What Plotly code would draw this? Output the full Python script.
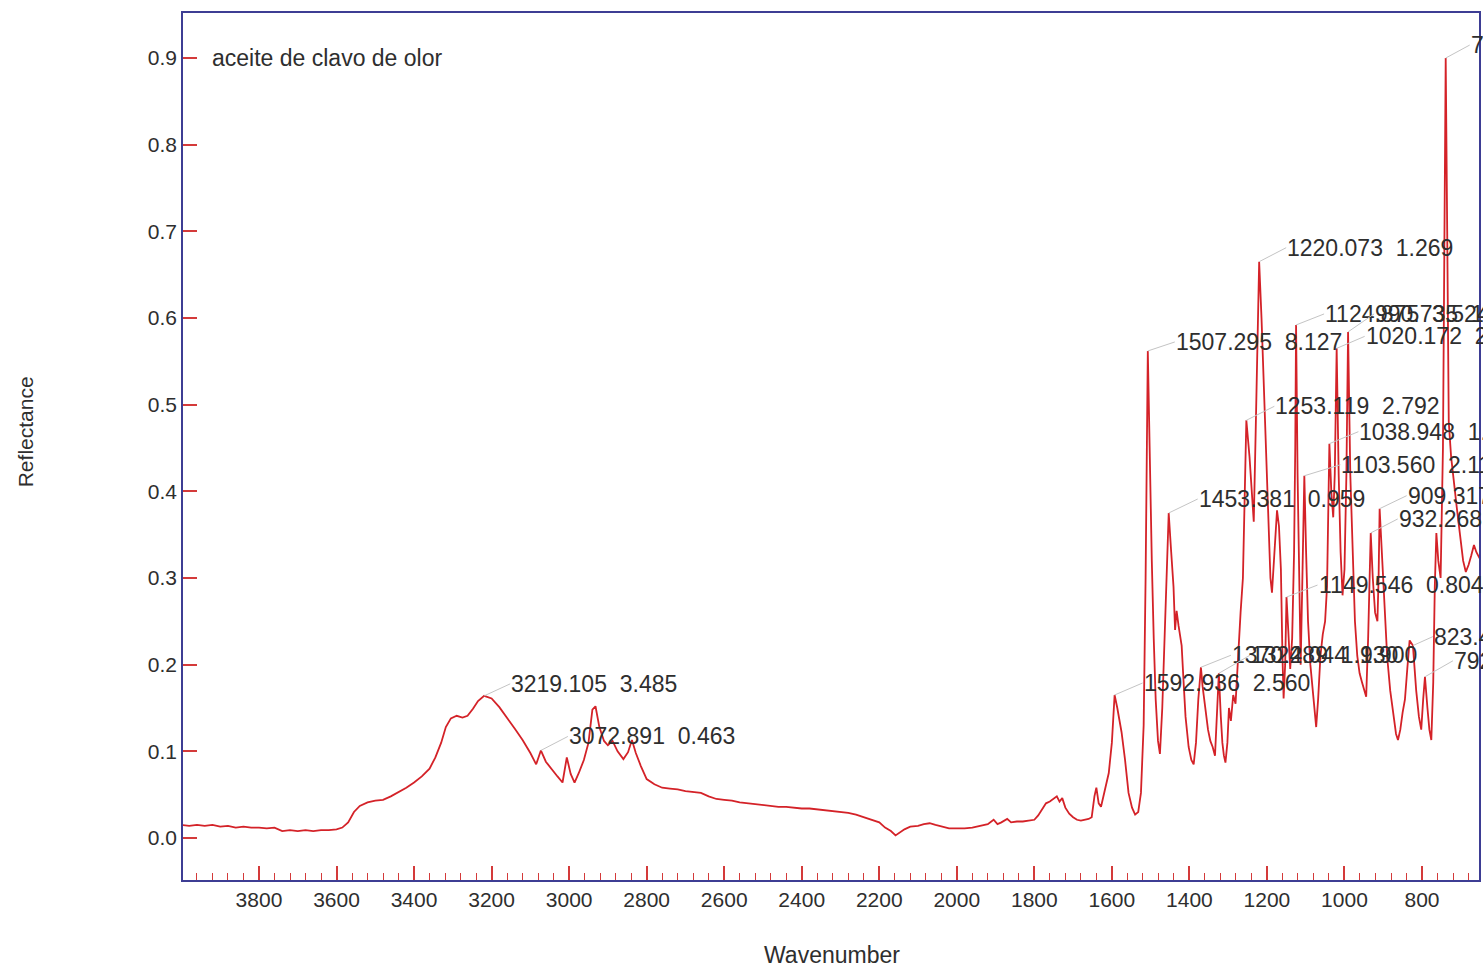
import numpy as np
import plotly.graph_objects as go

# IR reflectance spectrum of clove oil (aceite de clavo de olor)
wavenumber = [
    4000, 3980, 3960, 3940, 3920, 3900, 3880, 3860, 3840, 3820, 3800, 3780, 3760, 3740, 3720,
    3700, 3680, 3660, 3640, 3620, 3600, 3585, 3570, 3555, 3540, 3520, 3500, 3480, 3460, 3440,
    3420, 3400, 3380, 3360, 3345, 3330, 3318, 3305, 3290, 3275, 3262, 3248, 3235, 3219.105,
    3200, 3180, 3160, 3140, 3120, 3100, 3085, 3072.891, 3060, 3045, 3030, 3017, 3006, 2996,
    2986, 2975, 2962, 2950, 2940, 2932, 2922, 2910, 2900, 2888, 2875, 2860, 2848, 2838, 2828,
    2815, 2800, 2780, 2760, 2740, 2720, 2700, 2680, 2660, 2640, 2620, 2600, 2580, 2560, 2540,
    2520, 2500, 2480, 2460, 2440, 2420, 2400, 2380, 2360, 2340, 2320, 2300, 2280, 2260, 2240,
    2220, 2200, 2185, 2170, 2158, 2148, 2135, 2120, 2100, 2085, 2070, 2055, 2040, 2020, 2000,
    1980, 1960, 1940, 1920, 1905, 1895, 1885, 1870, 1860, 1845, 1830, 1815, 1800, 1790, 1780,
    1770, 1760, 1750, 1742, 1735, 1728, 1720, 1710, 1700, 1690, 1680, 1670, 1660, 1652, 1645,
    1640, 1634, 1628, 1621, 1614, 1608, 1600, 1592.936, 1586, 1575, 1566, 1557, 1548, 1540,
    1532, 1525, 1518, 1513, 1507.295, 1502, 1497, 1492, 1487, 1481, 1476, 1470, 1463, 1457,
    1453.381, 1447, 1441, 1437, 1433, 1428, 1420, 1415, 1410, 1402, 1395, 1389, 1383, 1377,
    1370.289, 1366, 1359, 1352, 1346, 1340, 1334, 1329, 1324.044, 1319, 1315, 1311, 1307,
    1302, 1298, 1293, 1287, 1281, 1275, 1268, 1262, 1258, 1253.119, 1245, 1239, 1234, 1229,
    1225, 1220.073, 1214, 1208, 1202, 1196, 1191, 1187, 1182, 1178, 1174, 1169, 1164, 1160,
    1157, 1153, 1149.546, 1145, 1140, 1135, 1130, 1127, 1124.875, 1121, 1117, 1113, 1109,
    1103.560, 1099, 1094, 1088, 1082, 1077, 1073, 1068, 1062, 1056, 1050, 1045, 1038.948,
    1034, 1029, 1025, 1020.172, 1015, 1010, 1005, 1000, 995, 990.735, 985, 979, 973, 967,
    961, 955, 950, 944, 939, 935, 932.268, 927, 921, 915, 912, 909.317, 904, 898, 890, 882,
    874, 867, 862, 856, 850, 844, 838, 832, 823.416, 815, 808, 802, 797, 792.417, 786, 781,
    776, 771, 767, 763, 758, 752, 746, 742, 738.903, 735, 731, 725, 718, 710, 702, 694, 687,
    680, 673, 666, 660, 653, 648,
]
reflectance = [
    0.015, 0.014, 0.015, 0.014, 0.015, 0.013, 0.014, 0.012, 0.013, 0.012, 0.012, 0.011, 0.012, 0.008, 0.009,
    0.008, 0.009, 0.008, 0.009, 0.009, 0.010, 0.012, 0.018, 0.030, 0.037, 0.041, 0.043, 0.044, 0.048, 0.053,
    0.058, 0.064, 0.071, 0.080, 0.093, 0.110, 0.128, 0.138, 0.141, 0.139, 0.141, 0.149, 0.158, 0.164,
    0.161, 0.151, 0.139, 0.126, 0.113, 0.098, 0.085, 0.101, 0.088, 0.079, 0.071, 0.064, 0.093, 0.074,
    0.064, 0.075, 0.090, 0.110, 0.148, 0.152, 0.128, 0.112, 0.107, 0.112, 0.100, 0.091, 0.099, 0.113, 0.098,
    0.083, 0.068, 0.062, 0.058, 0.057, 0.056, 0.054, 0.053, 0.052, 0.048, 0.045, 0.044, 0.043, 0.041, 0.040,
    0.039, 0.038, 0.037, 0.036, 0.036, 0.035, 0.034, 0.034, 0.033, 0.032, 0.031, 0.030, 0.029, 0.027, 0.024,
    0.021, 0.018, 0.012, 0.008, 0.003, 0.006, 0.010, 0.013, 0.014, 0.016, 0.017, 0.015, 0.013, 0.011, 0.011,
    0.011, 0.012, 0.014, 0.016, 0.021, 0.016, 0.018, 0.022, 0.018, 0.019, 0.019, 0.020, 0.021, 0.026, 0.033,
    0.040, 0.042, 0.045, 0.048, 0.042, 0.046, 0.035, 0.028, 0.024, 0.021, 0.020, 0.021, 0.022, 0.024, 0.048,
    0.058, 0.040, 0.036, 0.050, 0.062, 0.075, 0.110, 0.165, 0.150, 0.122, 0.090, 0.052, 0.035, 0.027,
    0.030, 0.052, 0.130, 0.300, 0.562, 0.430, 0.320, 0.230, 0.160, 0.112, 0.097, 0.150, 0.240, 0.320,
    0.375, 0.330, 0.290, 0.240, 0.262, 0.245, 0.222, 0.180, 0.140, 0.105, 0.090, 0.085, 0.110, 0.160,
    0.197, 0.175, 0.150, 0.125, 0.112, 0.105, 0.095, 0.150, 0.190, 0.140, 0.110, 0.095, 0.087,
    0.110, 0.150, 0.135, 0.165, 0.155, 0.210, 0.260, 0.300, 0.400, 0.482, 0.440, 0.400, 0.365, 0.470,
    0.554, 0.665, 0.600, 0.520, 0.430, 0.350, 0.300, 0.283, 0.320, 0.360, 0.378, 0.360, 0.310, 0.210,
    0.161, 0.200, 0.278, 0.240, 0.195, 0.230, 0.330, 0.450, 0.592, 0.420, 0.280, 0.200, 0.290,
    0.418, 0.330, 0.250, 0.200, 0.170, 0.140, 0.128, 0.160, 0.210, 0.235, 0.250, 0.290, 0.455,
    0.400, 0.370, 0.420, 0.565, 0.420, 0.330, 0.280, 0.310, 0.420, 0.584, 0.420, 0.320, 0.250, 0.210,
    0.190, 0.180, 0.172, 0.163, 0.230, 0.300, 0.352, 0.300, 0.260, 0.250, 0.300, 0.380, 0.330, 0.270, 0.210, 0.170,
    0.140, 0.120, 0.113, 0.125, 0.145, 0.160, 0.195, 0.228, 0.222, 0.170, 0.140, 0.125, 0.160, 0.186, 0.150, 0.125,
    0.113, 0.180, 0.290, 0.352, 0.320, 0.300, 0.450, 0.750, 0.900, 0.700, 0.480, 0.440, 0.410, 0.380, 0.350, 0.320, 0.307,
    0.315, 0.326, 0.338, 0.330, 0.325, 0.320,
]

# Peak picks: wavenumber and the printed label
peak_wn = [3219.105, 3072.891, 1592.936, 1507.295, 1453.381, 1370.289, 1324.044, 1253.119,
           1220.073, 1149.546, 1124.875, 1103.560, 1038.948, 1020.172, 990.735, 932.268,
           909.317, 823.416, 792.417, 738.903]
peak_text = ["3219.105  3.485", "3072.891  0.463", "1592.936  2.560", "1507.295  8.127",
             "1453.381  0.959", "1370.289  1.930", "1324.044  1.900", "1253.119  2.792",
             "1220.073  1.269", "1149.546  0.804", "1124.875  3.524", "1103.560  2.115",
             "1038.948  1.742", "1020.172  2.386", "990.735  1.553", "932.268  0.912",
             "909.317  1.085", "823.416  0.583", "792.417  0.726", "738.903  5.261"]
# leader-line offsets (pixels) from each peak to the start of its label
label_dx = [26, 27, 28, 27, 29, 30, 31, 28, 27, 31, 28, 36, 29, 28, 26, 27, 27, 20, 28, 24]
label_dy = [-12, -14, -12, -9, -14, -12, -18, -14, -14, -12, -11, -11, -12, -12, -18, -14, -13, -9, -16, -13]

title_text = "aceite de clavo de olor"

RED = "#d42228"
TICK_RED = "#d43a3a"
FRAME = "#3d3d94"
TEXT = "#2e2e2e"
FONT = "Liberation Sans, Arial, sans-serif"

fig = go.Figure()
fig.add_trace(go.Scatter(
    x=wavenumber, y=reflectance, mode="lines",
    line=dict(color=RED, width=1.8), hoverinfo="skip", showlegend=False,
))

wn_asc = np.array(wavenumber[::-1], dtype=float)
rf_asc = np.array(reflectance[::-1], dtype=float)
for wn, txt, dx, dy in zip(peak_wn, peak_text, label_dx, label_dy):
    fig.add_annotation(
        x=wn, y=float(np.interp(wn, wn_asc, rf_asc)), xref="x", yref="y",
        text=txt, showarrow=True, arrowhead=0, arrowwidth=1, arrowcolor="#c4c4c4",
        ax=dx, ay=dy, standoff=0, xanchor="left", yanchor="middle",
        font=dict(family=FONT, size=23, color=TEXT), borderpad=0,
    )

fig.add_annotation(x=0.021, y=0.9, xref="paper", yref="y", text=title_text, showarrow=False,
                   xanchor="left", yanchor="middle", font=dict(family=FONT, size=23, color=TEXT))
fig.add_annotation(x=-0.1217, y=0.5167, xref="paper", yref="paper", text="Reflectance",
                   textangle=-90, showarrow=False, xanchor="center", yanchor="middle",
                   font=dict(family=FONT, size=21, color=TEXT))
fig.add_annotation(x=0.5008, y=-0.0865, xref="paper", yref="paper", text="Wavenumber",
                   showarrow=False, xanchor="center", yanchor="middle",
                   font=dict(family=FONT, size=23, color=TEXT))

fig.update_xaxes(
    range=[3996, 653], tickmode="linear", tick0=0, dtick=200,
    ticks="inside", ticklen=14, tickwidth=1.5, tickcolor=TICK_RED,
    minor=dict(ticks="inside", ticklen=7, tickwidth=1.2, tickcolor=TICK_RED, tick0=0, dtick=40),
    showline=True, linecolor=FRAME, linewidth=1.5, mirror=True,
    showgrid=False, zeroline=False,
    tickfont=dict(family=FONT, size=21, color=TEXT),
)
fig.update_yaxes(
    range=[-0.0485, 0.952], tickmode="linear", tick0=0, dtick=0.1, tickformat=".1f",
    ticks="inside", ticklen=14, tickwidth=1.5, tickcolor=TICK_RED,
    showline=True, linecolor=FRAME, linewidth=1.5, mirror=True,
    showgrid=False, zeroline=False,
    tickfont=dict(family=FONT, size=21, color=TEXT),
)
fig.update_layout(
    width=1483, height=966,
    margin=dict(l=183, r=2, t=13, b=86),
    paper_bgcolor="white", plot_bgcolor="white",
)

fig.write_html("out.html")
